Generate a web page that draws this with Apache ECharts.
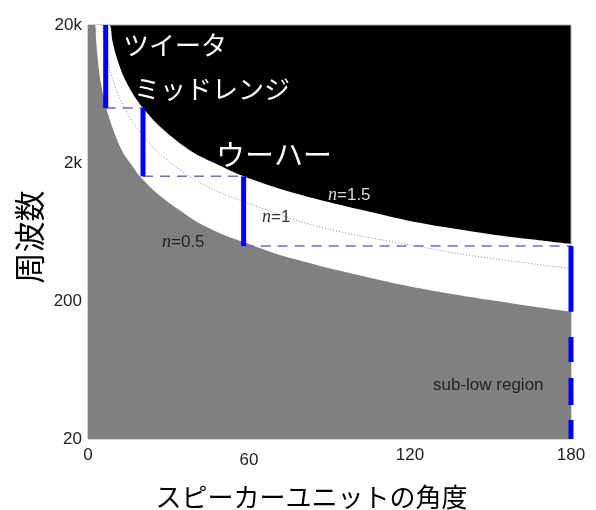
<!DOCTYPE html>
<html>
<head>
<meta charset="utf-8">
<script src="https://cdn.jsdelivr.net/npm/echarts@6/dist/echarts.min.js"></script>
<style>
  html, body { margin: 0; padding: 0; background: #fff; }
  #chart { width: 596px; height: 510px; }
</style>
</head>
<body>
<div id="chart"></div>
<script>
// Loudspeaker unit angle (deg) against frequency (Hz), log frequency scale.
const angleTicks = [0, 60, 120, 180];
const freqTicks = [20, 200, 2000, 20000];
const freqTickLabels = ['20', '200', '2k', '20k'];

// Region boundaries as [angle, frequency] pairs.
const curveN15 = [[0, 20000], [7.8, 20000], [9, 15700], [10.4, 12100], [13, 8700], [16.8, 6300],
  [20.5, 5000], [26, 3800], [34, 2800], [40, 2330], [50, 1880], [58, 1600], [72, 1290],
  [88, 1060], [105, 885], [120, 760], [135, 675], [150, 610], [165, 560], [180, 518]];
const curveN10 = [[5.2, 20000], [6, 15700], [6.9, 12100], [8.7, 8700], [11.2, 6300], [13.7, 5000],
  [17.3, 3800], [22.7, 2800], [26.7, 2330], [33.3, 1840], [38.7, 1560], [48, 1250], [58.7, 1040],
  [70, 865], [80, 745], [90, 662], [100, 600], [110, 552], [120, 510], [140, 435], [160, 385], [180, 343]];
const curveN05 = [[0, 20000], [2.6, 20000], [3, 15700], [3.5, 12100], [4.3, 8700], [5.6, 6300],
  [6.8, 5000], [8.7, 3800], [11.3, 2800], [13.3, 2330], [16.7, 1880], [19.3, 1600], [24, 1290],
  [29.3, 1060], [35, 885], [40, 760], [45, 675], [50, 610], [55, 560], [60, 518], [70, 440],
  [80, 388], [90, 345], [105, 295], [120, 255], [135, 226], [150, 203], [165, 183], [180, 167]];

// Units: mounting angle and the band each one covers.
const unitNames = ['ツイータ', 'ミッドレンジ', 'ウーハー'];
const unitAngles = [6.6, 20.5, 58, 180];
const bandEdges = [20000, 5000, 1600, 500];
const subLowSolidEnd = 167;
const freqMin = 20;

const blue = '#0000f0';
const dashBlue = '#6b6bd0';

const series = [];

const curveBase = { type: 'line', symbol: 'none', smooth: 0.3, silent: true };

// white band below n=1.5, gray region below n=0.5
series.push(Object.assign({}, curveBase, {
  data: curveN15,
  lineStyle: { width: 0 }, areaStyle: { color: '#ffffff', opacity: 1, origin: 'start' }
}));
series.push(Object.assign({}, curveBase, {
  data: curveN05,
  lineStyle: { width: 0 }, areaStyle: { color: '#808080', opacity: 1, origin: 'start' }
}));
series.push(Object.assign({}, curveBase, {
  data: curveN10,
  lineStyle: { width: 1, color: '#8c8c8c', type: [1, 2] }
}));

// horizontal crossover guides
for (let i = 0; i < 3; i++) {
  series.push({
    type: 'line', symbol: 'none', silent: true,
    data: [[unitAngles[i], bandEdges[i + 1]], [unitAngles[i + 1], bandEdges[i + 1]]],
    lineStyle: { width: 1.5, color: dashBlue, type: [10, 7] }
  });
}

// vertical unit bands
for (let i = 0; i < 3; i++) {
  series.push({
    type: 'line', symbol: 'none', silent: true, clip: false,
    data: [[unitAngles[i], bandEdges[i]], [unitAngles[i], bandEdges[i + 1]]],
    lineStyle: { width: 5, color: blue, cap: 'butt' }
  });
}
series.push({
  type: 'line', symbol: 'none', silent: true, clip: false,
  data: [[unitAngles[3], bandEdges[3]], [unitAngles[3], subLowSolidEnd]],
  lineStyle: { width: 5, color: blue, cap: 'butt' }
});
// sub-low band continues as a dashed stroke, drawn upward from the bottom edge
series.push({
  type: 'line', symbol: 'none', silent: true, clip: false,
  data: [[unitAngles[3], freqMin], [unitAngles[3], subLowSolidEnd]],
  lineStyle: { width: 5, color: blue, cap: 'butt', type: [19, 15, 27, 16, 25, 40] }
});

const jp = '"Noto Sans CJK JP", sans-serif';
const sans = '"Liberation Sans", Arial, sans-serif';
const serif = '"Liberation Serif", "Times New Roman", serif';

function nLabel(value, x, y, color) {
  return {
    type: 'text', x: x, y: y, z: 100, silent: true,
    style: {
      text: '{i|n}{r|=' + value + '}', verticalAlign: 'middle',
      rich: {
        i: { fontFamily: serif, fontStyle: 'italic', fontSize: 18, fill: color, color: color },
        r: { fontFamily: sans, fontSize: 17, fill: color, color: color }
      }
    }
  };
}

function plainLabel(text, x, y, font, size, color) {
  return {
    type: 'text', x: x, y: y, z: 100, silent: true,
    style: { text: text, fontFamily: font, fontSize: size, fill: color, verticalAlign: 'middle' }
  };
}

const chart = echarts.init(document.getElementById('chart'), null, { renderer: 'canvas' });
chart.setOption({
  animation: false,
  backgroundColor: '#ffffff',
  grid: {
    left: 88, right: 25, top: 25, bottom: 71,
    show: true, backgroundColor: '#000000', borderColor: '#a8a8a8', borderWidth: 1,
    outerBoundsMode: 'none'
  },
  xAxis: {
    type: 'value', min: 0, max: 180, interval: 60,
    name: 'スピーカーユニットの角度', nameLocation: 'middle', nameGap: 45,
    nameTextStyle: { fontFamily: jp, fontSize: 26, color: '#000', padding: [0, 36, 0, 0] },
    axisLine: { show: false }, axisTick: { show: false }, splitLine: { show: false },
    axisLabel: {
      margin: 8, fontFamily: sans, fontSize: 17, color: '#222',
      customValues: angleTicks,
      formatter: v => (v === 60 ? '{low|60}' : String(v)),
      rich: { low: { padding: [5, 0, 0, 0], fontFamily: sans, fontSize: 17, color: '#222' } }
    }
  },
  yAxis: {
    type: 'log', logBase: 10, min: 20, max: 20000,
    axisLine: { show: false }, axisTick: { show: false }, splitLine: { show: false },
    axisLabel: {
      margin: 6, fontFamily: sans, fontSize: 17, color: '#222', padding: [0, 0, 6, 0],
      customValues: freqTicks,
      formatter: v => {
        const k = freqTicks.findIndex(t => Math.abs(t - v) < 1e-6 * t);
        return k >= 0 ? freqTickLabels[k] : '';
      }
    }
  },
  series: series,
  graphic: [
    {
      type: 'text', x: 29, y: 237, rotation: Math.PI / 2, z: 100, silent: true,
      style: { text: '周波数', fontFamily: jp, fontSize: 31, fill: '#000', align: 'center', verticalAlign: 'middle' }
    },
    plainLabel(unitNames[0], 123, 45, jp, 26, '#fff'),
    plainLabel(unitNames[1], 134, 89, jp, 26, '#fff'),
    plainLabel(unitNames[2], 216, 155, jp, 29, '#fff'),
    nLabel('1.5', 328, 195, '#d8d8d8'),
    nLabel('1', 262, 217, '#333'),
    nLabel('0.5', 162, 242, '#222'),
    plainLabel('sub-low region', 433, 385, sans, 17, '#222')
  ]
});
</script>
</body>
</html>
